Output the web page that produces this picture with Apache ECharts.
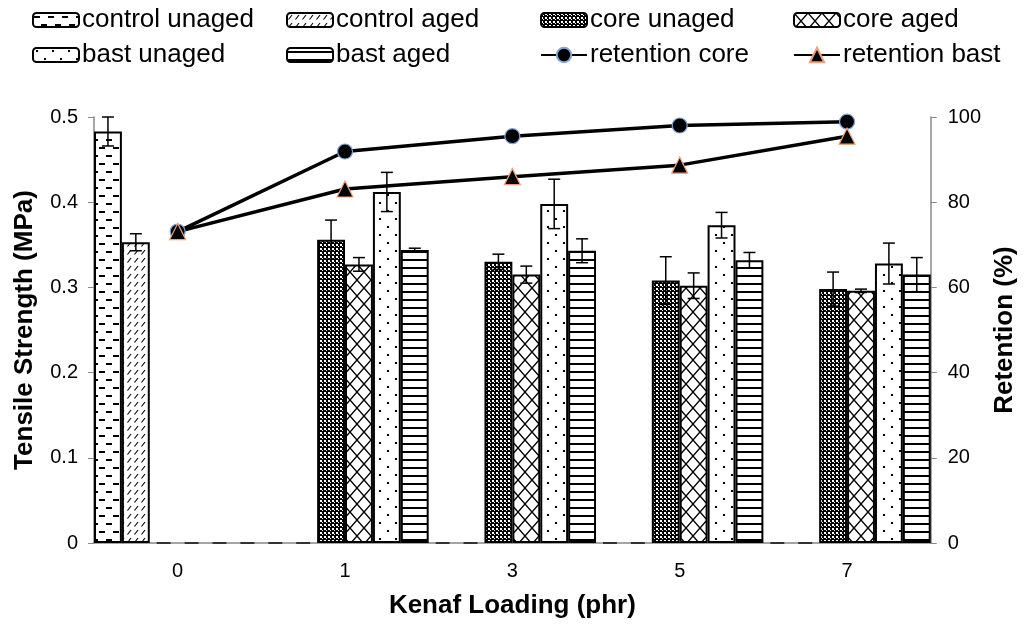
<!DOCTYPE html>
<html>
<head>
<meta charset="utf-8">
<script src="https://cdn.jsdelivr.net/npm/echarts@6/dist/echarts.min.js"></script>
<style>
html,body{margin:0;padding:0;background:#fff;}
#c{width:1026px;height:624px;}
</style>
</head>
<body>
<div id="c"></div>
<script>
// ---- data ----
const categories = ['0', '1', '3', '5', '7'];
const controlUnaged = [0.483, 0, 0, 0, 0];
const controlUnagedErr = [0.017, 0, 0, 0, 0];
const controlAged = [0.353, 0, 0, 0, 0];
const controlAgedErr = [0.010, 0, 0, 0, 0];
const coreUnaged = [0, 0.356, 0.330, 0.308, 0.298];
const coreUnagedErr = [0, 0.023, 0.009, 0.028, 0.020];
const coreAged = [0, 0.327, 0.315, 0.302, 0.296];
const coreAgedErr = [0, 0.008, 0.010, 0.015, 0.002];
const bastUnaged = [0, 0.412, 0.398, 0.373, 0.328];
const bastUnagedErr = [0, 0.023, 0.029, 0.015, 0.024];
const bastAged = [0, 0.344, 0.343, 0.332, 0.315];
const bastAgedErr = [0, 0.002, 0.014, 0.009, 0.020];
const retentionCore = [73.1, 91.9, 95.5, 98.0, 98.9];
const retentionBast = [73.1, 83.1, 86.0, 88.7, 95.5];
const leftTicks = [0, 0.1, 0.2, 0.3, 0.4, 0.5];
const rightTicks = [0, 20, 40, 60, 80, 100];

// ---- patterns ----
function pat(w, h, draw, bg) {
  const c = document.createElement('canvas');
  c.width = w; c.height = h;
  const g = c.getContext('2d');
  g.fillStyle = bg || '#fff';
  g.fillRect(0, 0, w, h);
  draw(g);
  return { image: c, repeat: 'repeat' };
}
const pControlUnaged = pat(14, 16, g => {
  g.fillStyle = '#000';
  g.fillRect(1, 3, 6, 2);
  g.fillRect(8, 11, 6, 2);
});
const pControlAged = pat(7, 8, g => {
  g.strokeStyle = '#000'; g.lineWidth = 1.1;
  g.beginPath(); g.moveTo(1.5, 6.5); g.lineTo(5, 2); g.stroke();
});
const pCoreUnaged = pat(4, 4, g => {
  g.fillStyle = '#fff';
  g.fillRect(0, 0, 2, 2);
  g.fillRect(2, 2, 1, 1);
}, '#000');
const pCoreAged = pat(14, 16, g => {
  g.strokeStyle = '#000'; g.lineWidth = 1.4;
  g.beginPath();
  g.moveTo(0, 0); g.lineTo(14, 16);
  g.moveTo(14, 0); g.lineTo(0, 16);
  g.stroke();
});
const pBastUnaged = pat(16, 16, g => {
  g.fillStyle = '#000';
  g.fillRect(3, 2, 2, 2);
  g.fillRect(11, 10, 2, 2);
});
const pBastAged = pat(4, 8, g => {
  g.fillStyle = '#000';
  g.fillRect(0, 3, 4, 2);
});

const barDefs = [
  { name: 'control unaged', data: controlUnaged, err: controlUnagedErr, color: pControlUnaged },
  { name: 'control aged', data: controlAged, err: controlAgedErr, color: pControlAged },
  { name: 'core unaged', data: coreUnaged, err: coreUnagedErr, color: pCoreUnaged },
  { name: 'core aged', data: coreAged, err: coreAgedErr, color: pCoreAged },
  { name: 'bast unaged', data: bastUnaged, err: bastUnagedErr, color: pBastUnaged },
  { name: 'bast aged', data: bastAged, err: bastAgedErr, color: pBastAged }
];
const nBars = barDefs.length;

const FONT = '"Liberation Sans", Arial, sans-serif';

const series = [];
barDefs.forEach(d => {
  series.push({
    name: d.name,
    type: 'bar',
    yAxisIndex: 0,
    barGap: '0%',
    barCategoryGap: '0%',
    itemStyle: { color: d.color, borderColor: '#000', borderWidth: 2 },
    emphasis: { disabled: true },
    data: d.data.map(v => v === 0 ? { value: 0, itemStyle: { borderWidth: 0 } } : v),
    z: 2
  });
});
barDefs.forEach((d, i) => {
  series.push({
    name: d.name + ' err',
    type: 'custom',
    yAxisIndex: 0,
    z: 3,
    silent: true,
    data: d.data.map((v, j) => [j, v, d.err[j]]),
    renderItem: function (params, api) {
      const idx = api.value(0), v = api.value(1), e = api.value(2);
      const band = api.size([1, 0])[0];
      const bw = band / nBars;
      const base = api.coord([idx, 0]);
      const cx = base[0] + (i - (nBars - 1) / 2) * bw;
      if (v === 0) {
        return {
          type: 'line',
          shape: { x1: cx - bw / 4, y1: base[1], x2: cx + bw / 4, y2: base[1] },
          style: { stroke: '#333', lineWidth: 2 }
        };
      }
      const yt = api.coord([idx, v + e])[1];
      const yb = api.coord([idx, v - e])[1];
      const cap = 6;
      const st = { stroke: '#000', lineWidth: 1.5 };
      return {
        type: 'group',
        children: [
          { type: 'line', shape: { x1: cx, y1: yt, x2: cx, y2: yb }, style: st },
          { type: 'line', shape: { x1: cx - cap, y1: yt, x2: cx + cap, y2: yt }, style: st },
          { type: 'line', shape: { x1: cx - cap, y1: yb, x2: cx + cap, y2: yb }, style: st }
        ]
      };
    }
  });
});
series.push({
  name: 'retention core',
  type: 'line',
  yAxisIndex: 1,
  data: retentionCore,
  symbol: 'circle',
  symbolSize: 15,
  lineStyle: { color: '#000', width: 3.5 },
  itemStyle: { color: '#000', borderColor: '#7fa6d9', borderWidth: 1.2 },
  emphasis: { disabled: true },
  z: 5
});
series.push({
  name: 'retention bast',
  type: 'line',
  yAxisIndex: 1,
  data: retentionBast,
  symbol: 'triangle',
  symbolSize: 16,
  lineStyle: { color: '#000', width: 3.5 },
  itemStyle: { color: '#000', borderColor: '#f0a07a', borderWidth: 1.2 },
  emphasis: { disabled: true },
  z: 5
});

const legendNames = [
  ['control unaged', 'control aged', 'core unaged', 'core aged'],
  ['bast unaged', 'bast aged', 'retention core', 'retention bast']
];
const colLeft = [32, 286, 540, 793];
const rowTop = [7, 42];
const legends = [];
legendNames.forEach((row, r) => {
  row.forEach((nm, c) => {
    const isLine = nm.indexOf('retention') === 0;
    legends.push({
      data: [nm],
      left: colLeft[c],
      top: rowTop[r],
      itemWidth: 46,
      itemHeight: isLine ? 18 : 14,
      itemGap: 0,
      padding: 0,
      selectedMode: false,
      textStyle: { fontFamily: FONT, fontSize: 26, color: '#000', padding: [0, 0, 0, -2] }
    });
  });
});

const chart = echarts.init(document.getElementById('c'), null, { renderer: 'canvas' });
chart.setOption({
  animation: false,
  backgroundColor: '#fff',
  legend: legends,
  grid: { left: 94, right: 83, top: 117, bottom: 81, containLabel: false },
  xAxis: {
    type: 'category',
    data: categories,
    name: 'Kenaf Loading (phr)',
    nameLocation: 'middle',
    nameGap: 50,
    nameTextStyle: { fontFamily: FONT, fontSize: 26, fontWeight: 'bold', color: '#000' },
    axisLine: { lineStyle: { color: '#888', width: 1.5 } },
    axisTick: { show: false },
    axisLabel: { fontFamily: FONT, fontSize: 20, color: '#000', margin: 18 }
  },
  yAxis: [
    {
      type: 'value',
      min: leftTicks[0],
      max: leftTicks[leftTicks.length - 1],
      interval: 0.1,
      name: 'Tensile Strength (MPa)',
      nameLocation: 'middle',
      nameGap: 56,
      nameTextStyle: { fontFamily: FONT, fontSize: 26, fontWeight: 'bold', color: '#000' },
      axisLine: { show: true, lineStyle: { color: '#888', width: 1.5 } },
      axisTick: { show: true, length: 6, lineStyle: { color: '#888' } },
      splitLine: { show: false },
      axisLabel: { fontFamily: FONT, fontSize: 20, color: '#000', margin: 16 }
    },
    {
      type: 'value',
      min: rightTicks[0],
      max: rightTicks[rightTicks.length - 1],
      interval: 20,
      name: 'Retention (%)',
      nameLocation: 'middle',
      nameGap: 52,
      nameTextStyle: { fontFamily: FONT, fontSize: 26, fontWeight: 'bold', color: '#000' },
      axisLine: { show: true, lineStyle: { color: '#888', width: 1.5 } },
      axisTick: { show: true, length: 6, lineStyle: { color: '#888' } },
      splitLine: { show: false },
      axisLabel: { fontFamily: FONT, fontSize: 20, color: '#000', margin: 17 }
    }
  ],
  series: series
});
</script>
</body>
</html>
